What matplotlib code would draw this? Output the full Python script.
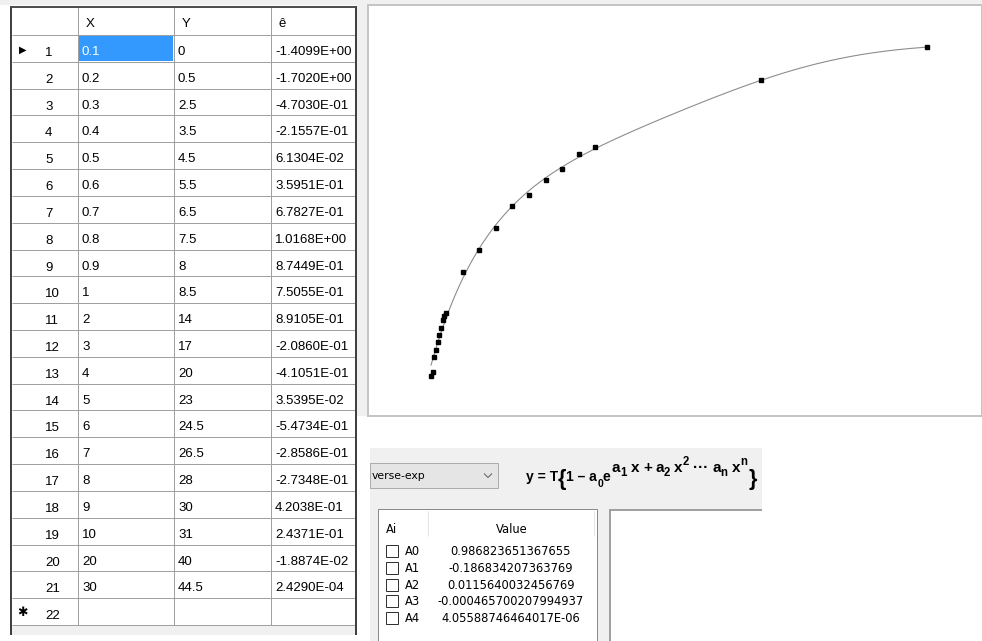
import numpy as np
import matplotlib
matplotlib.use('Agg')
import matplotlib.pyplot as plt
from matplotlib.patches import Rectangle

# ---------------- data ----------------
row_ids = list(range(1, 23))
x_vals = [0.1, 0.2, 0.3, 0.4, 0.5, 0.6, 0.7, 0.8, 0.9, 1, 2, 3, 4, 5, 6, 7, 8, 9, 10, 20, 30]
y_vals = [0, 0.5, 2.5, 3.5, 4.5, 5.5, 6.5, 7.5, 8, 8.5, 14, 17, 20, 23, 24.5, 26.5, 28, 30, 31, 40, 44.5]
resid = [-1.4099e+00, -1.7020e+00, -4.7030e-01, -2.1557e-01, 6.1304e-02, 3.5951e-01,
         6.7827e-01, 1.0168e+00, 8.7449e-01, 7.5055e-01, 8.9105e-01, -2.0860e-01,
         -4.1051e-01, 3.5395e-02, -5.4734e-01, -2.8586e-01, -2.7348e-01, 4.2038e-01,
         2.4371e-01, -1.8874e-02, 2.4290e-04]
col_headers = ['X', 'Y', 'ê']
coef_names = ['A0', 'A1', 'A2', 'A3', 'A4']
coef_text = ['0.986823651367655', '-0.186834207363769', '0.0115640032456769',
             '-0.000465700207994937', '4.05588746464017E-06']
coefs = [float(s) for s in coef_text]
T_scale = 45.0
model_name = 'verse-exp'

# formula pieces: (text, role)  role: b=base, s=subscript of base, e=exponent,
# es=subscript inside exponent, ep=power inside exponent, br=brace
formula_base = [('y = T', 'b'), ('{', 'br'), ('1 \u2013 a', 'b'), ('0', 's'), ('e', 'b')]
formula_exp = [('a', 'e'), ('1', 'es'), ('x', 'e'), ('+', 'e'), ('a', 'e'), ('2', 'es'),
               ('x', 'e'), ('2', 'ep'), ('\u00b7\u00b7\u00b7', 'e'), ('a', 'e'), ('n', 'es'),
               ('x', 'e'), ('n', 'ep')]
exp_gap_before = [0, 0, 1, 1, 1, 0, 1, 0, 1, 1, 0, 1, 0]

# ---------------- figure ----------------
W, H = 982, 641
fig = plt.figure(figsize=(W / 100, H / 100), dpi=100, facecolor='white')
ui = fig.add_axes([0, 0, 1, 1])
ui.set_xlim(0, W)
ui.set_ylim(H, 0)
ui.axis('off')

PX = 0.72
TF = 'Liberation Sans'
LF = 'DejaVu Sans'


def rect(x0, y0, x1, y1, fc, ec='none', lw=0, z=1):
    ui.add_patch(Rectangle((x0, y0), x1 - x0, y1 - y0, facecolor=fc,
                           edgecolor=ec, linewidth=lw * PX, zorder=z))


def line(xs, ys, c, lw=1, z=3):
    ui.plot(xs, ys, color=c, lw=lw * PX, zorder=z, solid_capstyle='butt')


# background grey strips
rect(0, 0, W, 5, '#f0f0f0')
rect(357, 0, 368, 416, '#f0f0f0')

# ---------------- data grid table ----------------
tx0, tx1, ty0 = 11, 356, 7
hdr_bot = 35
rh = 26.82
grid_bot = hdr_bot + len(row_ids) * rh
col_edges = [11, 78, 174, 271, 356]
rect(tx0, ty0, tx1, 635, 'white')
rect(12, grid_bot, 355, 635, '#f0f0f0')

# selected cell
rect(col_edges[1] + 1, hdr_bot + 1, col_edges[2] - 1, hdr_bot + rh - 1, '#3399ff', z=2)

line([12, 355], [hdr_bot, hdr_bot], '#a0a0a0')
for i in range(len(row_ids)):
    yb = hdr_bot + (i + 1) * rh
    line([12, 355], [yb, yb], '#a0a0a0')
for xe in col_edges[1:-1]:
    line([xe, xe], [ty0, grid_bot], '#a0a0a0')

# frame
line([tx0, tx0], [ty0 - 1, 635], '#404040', lw=2, z=4)
line([tx1, tx1], [ty0 - 1, 635], '#404040', lw=2, z=4)
line([tx0, tx1], [ty0, ty0], '#505050', lw=2, z=4)

# headers
for j, h in enumerate(col_headers):
    ui.text(col_edges[j + 1] + 8, ty0 + 20, h, fontsize=9.5, family=TF,
            va='baseline', ha='left', color='black', zorder=5)

# rows
for i, rid in enumerate(row_ids):
    top = hdr_bot + i * rh
    ui.text(45, top + 21, str(rid), fontsize=9.5, family=TF, va='baseline',
            ha='left', color='black', zorder=5)
    if i < len(x_vals):
        cells = [f'{x_vals[i]:g}', f'{y_vals[i]:g}', f'{resid[i]:.4E}']
        for j, s in enumerate(cells):
            c = 'white' if (i == 0 and j == 0) else 'black'
            ui.text(col_edges[j + 1] + 4, top + 20, s, fontsize=9.5, family=TF,
                    va='baseline', ha='left', color=c, zorder=5)

ui.text(23, hdr_bot + 0.5 * rh + 1.5, '\u25b6', fontsize=7, family=LF,
        ha='center', va='center', color='black', zorder=5)
ui.text(22, hdr_bot + 21.5 * rh + 1, '\u2731', fontsize=9, family=LF,
        ha='center', va='center', color='black', zorder=5)

# ---------------- plot panel ----------------
px_left, px_top, px_bot = 368, 5, 416
ax = fig.add_axes([px_left / W, (H - px_bot) / H, (W - px_left) / W, (px_bot - px_top) / H])
x0_px, x_scale = 429.4, 16.6
y0_px, y_scale = 375.5, 7.38
ax.set_xlim((px_left - x0_px) / x_scale, (W - x0_px) / x_scale)
ax.set_ylim((y0_px - px_bot) / y_scale, (y0_px - px_top) / y_scale)
ax.set_facecolor('white')
ax.set_xticks([])
ax.set_yticks([])
for sp in ax.spines.values():
    sp.set_color('#c4c4c4')
    sp.set_linewidth(2 * PX)

xc = np.linspace(min(x_vals), max(x_vals), 400)
poly = sum(coefs[k] * xc ** k for k in range(1, len(coefs)))
yc = T_scale * (1 - coefs[0] * np.exp(poly))
ax.plot(xc, yc, color='#8c8c8c', lw=1.1 * PX, zorder=2)
ax.plot(x_vals, y_vals, linestyle='none', marker='s', ms=2.4, color='black',
        zorder=3)

# ---------------- lower control panel ----------------
rect(370, 448, 762, 641, '#f0f0f0')

# combo box
rect(370, 463, 498, 488, '#e5e5e5', ec='#adadad', lw=1, z=2)
ui.text(372, 476, model_name, fontsize=7.8, family=LF, va='center', ha='left',
        color='black', zorder=5)
line([484, 488, 492], [473.5, 477.5, 473.5], '#606060', lw=1, z=5)

# formula  y = T{1 - a0 e^(a1 x + a2 x^2 ... an x^n)}
renderer = fig.canvas.get_renderer()
role_style = {'b': (10, 481), 's': (7.5, 487), 'br': (15.5, 485),
              'e': (11, 472), 'es': (8.3, 476), 'ep': (8.3, 465)}


def place(pieces, x, gaps=None, gap=0.0):
    texts = []
    for k, (s, role) in enumerate(pieces):
        if gaps is not None and gaps[k]:
            x += gap
        fs, yb = role_style[role]
        t = ui.text(x, yb, s, fontsize=fs, family=TF, fontweight='bold',
                    va='baseline', ha='left', color='black', zorder=5)
        x += t.get_window_extent(renderer).width
        texts.append(t)
    return texts, x


_, xe = place(formula_base, 526)
trial, xend = place(formula_exp, xe + 1)
for t in trial:
    t.remove()
extra = max(0.0, (747 - xend) / sum(exp_gap_before))
place(formula_exp, xe + 1, exp_gap_before, extra)
place([('}', 'br')], 749)

# coefficient list
rect(378, 509, 597, 650, 'white', ec='#8a8a8a', lw=1, z=2)
line([428, 428], [511, 536], '#e3e3e3', z=3)
line([594, 594], [511, 536], '#e3e3e3', z=3)
ui.text(386, 533, 'Ai', fontsize=8.3, family=LF, va='baseline', ha='left', zorder=5)
ui.text(512, 533, 'Value', fontsize=8.3, family=LF, va='baseline', ha='center', zorder=5)
lrh = 16.8
for k, (nm, val) in enumerate(zip(coef_names, coef_text)):
    cy = 551 + k * lrh
    rect(386, cy - 6, 398, cy + 6, 'white', ec='#333333', lw=1, z=4)
    ui.text(405, cy + 4, nm, fontsize=8.3, family=LF, va='baseline', ha='left', zorder=5)
    ui.text(511, cy + 4, val, fontsize=8.3, family=LF, va='baseline', ha='center', zorder=5)

# empty output box
rect(610, 509, 770, 650, 'white', ec='none', z=2)
line([610, 610], [509, 641], '#a0a0a0', lw=2, z=3)
line([609, 762], [510, 510], '#a0a0a0', lw=2, z=3)

fig.savefig('out.png', dpi=100, facecolor=fig.get_facecolor())
